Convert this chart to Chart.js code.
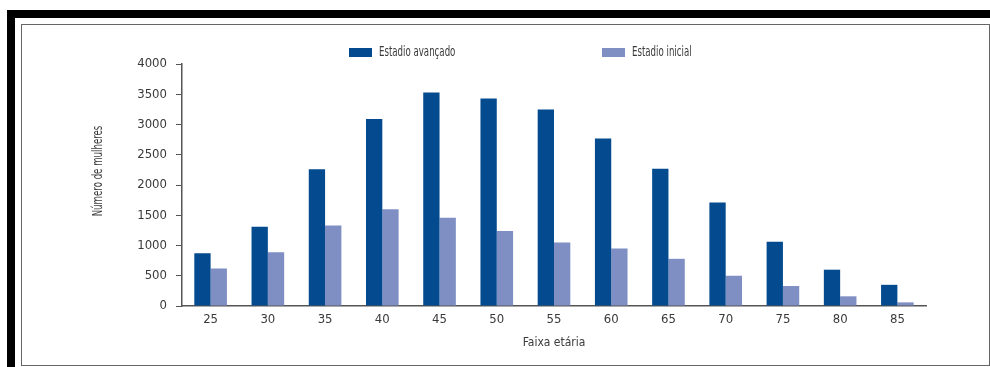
<!DOCTYPE html>
<html>
<head>
<meta charset="utf-8">
<script src="https://cdn.jsdelivr.net/npm/chart.js@4.4.0/dist/chart.umd.min.js"></script>
<style>
  html, body { margin: 0; padding: 0; background: #fff; }
  body { position: relative; width: 990px; height: 367px; overflow: hidden; }
  #topbar { position: absolute; left: 7px; top: 10px; width: 983px; height: 8px; background: #000; }
  #leftbar { position: absolute; left: 7px; top: 10px; width: 8px; height: 357px; background: #000; }
  #panel { position: absolute; left: 21px; top: 24px; width: 967px; height: 340px; border: 1px solid #666; }
  #panel canvas { display: block; }
</style>
</head>
<body>
<div id="topbar"></div>
<div id="leftbar"></div>
<div id="panel"><canvas id="grafico" width="967" height="340"></canvas></div>
<script>
var faixas = ['25', '30', '35', '40', '45', '50', '55', '60', '65', '70', '75', '80', '85'];
var avancado = [870, 1310, 2260, 3090, 3530, 3430, 3250, 2770, 2270, 1710, 1060, 600, 350];
var inicial = [620, 890, 1330, 1600, 1460, 1240, 1050, 950, 780, 500, 330, 160, 60];
var yTicks = [0, 500, 1000, 1500, 2000, 2500, 3000, 3500, 4000];
var tituloY = 'Número de mulheres';
var tituloX = 'Faixa etária';

var fonte = "'Liberation Sans Narrow', 'DejaVu Sans Condensed', sans-serif";
var corTexto = '#3a3a3a';
var aperto = 0.71; // horizontal squeeze to get closer to the narrow original typeface

// legend and y title drawn by hand (narrow text, legend items far apart)
var textosManuais = {
    id: 'textosManuais',
    afterDraw: function(chart) {
        var ctx = chart.ctx;
        var area = chart.chartArea;
        var xs = [area.left + 167, area.left + 420];
        var yc = area.top - 11.5;
        ctx.save();
        ctx.font = '13.5px ' + fonte;
        ctx.textBaseline = 'middle';
        ctx.textAlign = 'left';
        chart.data.datasets.forEach(function(ds, i) {
            ctx.fillStyle = ds.backgroundColor;
            ctx.fillRect(xs[i], yc - 4.5, 23, 9);
            ctx.fillStyle = corTexto;
            ctx.save();
            ctx.translate(xs[i] + 30, yc);
            ctx.scale(aperto, 1);
            ctx.fillText(ds.label, 0, 0);
            ctx.restore();
        });

        ctx.save();
        ctx.translate(area.left - 84, area.top + 107);
        ctx.rotate(-Math.PI / 2);
        ctx.scale(aperto, 1);
        ctx.textAlign = 'center';
        ctx.fillStyle = corTexto;
        ctx.fillText(tituloY, 0, 0);
        ctx.restore();
        ctx.restore();
    }
};

var ctx = document.getElementById('grafico').getContext('2d');
var grafico = new Chart(ctx, {
    type: 'bar',
    data: {
        labels: faixas,
        datasets: [
            {
                label: 'Estadio avançado',
                data: avancado,
                backgroundColor: '#034a8f',
                borderWidth: 0,
                categoryPercentage: 0.57,
                barPercentage: 1.0
            },
            {
                label: 'Estadio inicial',
                data: inicial,
                backgroundColor: '#7f8fc4',
                borderWidth: 0,
                categoryPercentage: 0.57,
                barPercentage: 1.0
            }
        ]
    },
    options: {
        responsive: false,
        animation: false,
        layout: { padding: { left: 60, right: 63, top: 39, bottom: 0 } },
        plugins: {
            legend: { display: false },
            tooltip: { enabled: false }
        },
        scales: {
            x: {
                grid: { display: false, drawTicks: false },
                border: { display: true, color: '#555', width: 1.5 },
                ticks: { color: corTexto, padding: 6, font: { family: fonte, size: 13 } },
                title: {
                    display: true,
                    text: tituloX,
                    color: corTexto,
                    font: { family: fonte, size: 12 },
                    padding: { top: 0, bottom: 14.8 }
                },
                afterFit: function(scale) { scale.height = 59; }
            },
            y: {
                min: 0,
                max: 4000,
                afterBuildTicks: function(scale) {
                    scale.ticks = yTicks.map(function(v) { return { value: v }; });
                },
                grid: { display: true, drawOnChartArea: false, drawTicks: true, tickLength: 6, color: '#555', lineWidth: 1 },
                border: { display: true, color: '#555', width: 1.5 },
                ticks: {
                    color: corTexto,
                    padding: 9,
                    font: { family: fonte, size: 13 },
                    callback: function(v) { return String(v); }
                },
                afterFit: function(scale) { scale.width = 100; }
            }
        }
    },
    plugins: [textosManuais]
});
</script>
</body>
</html>
